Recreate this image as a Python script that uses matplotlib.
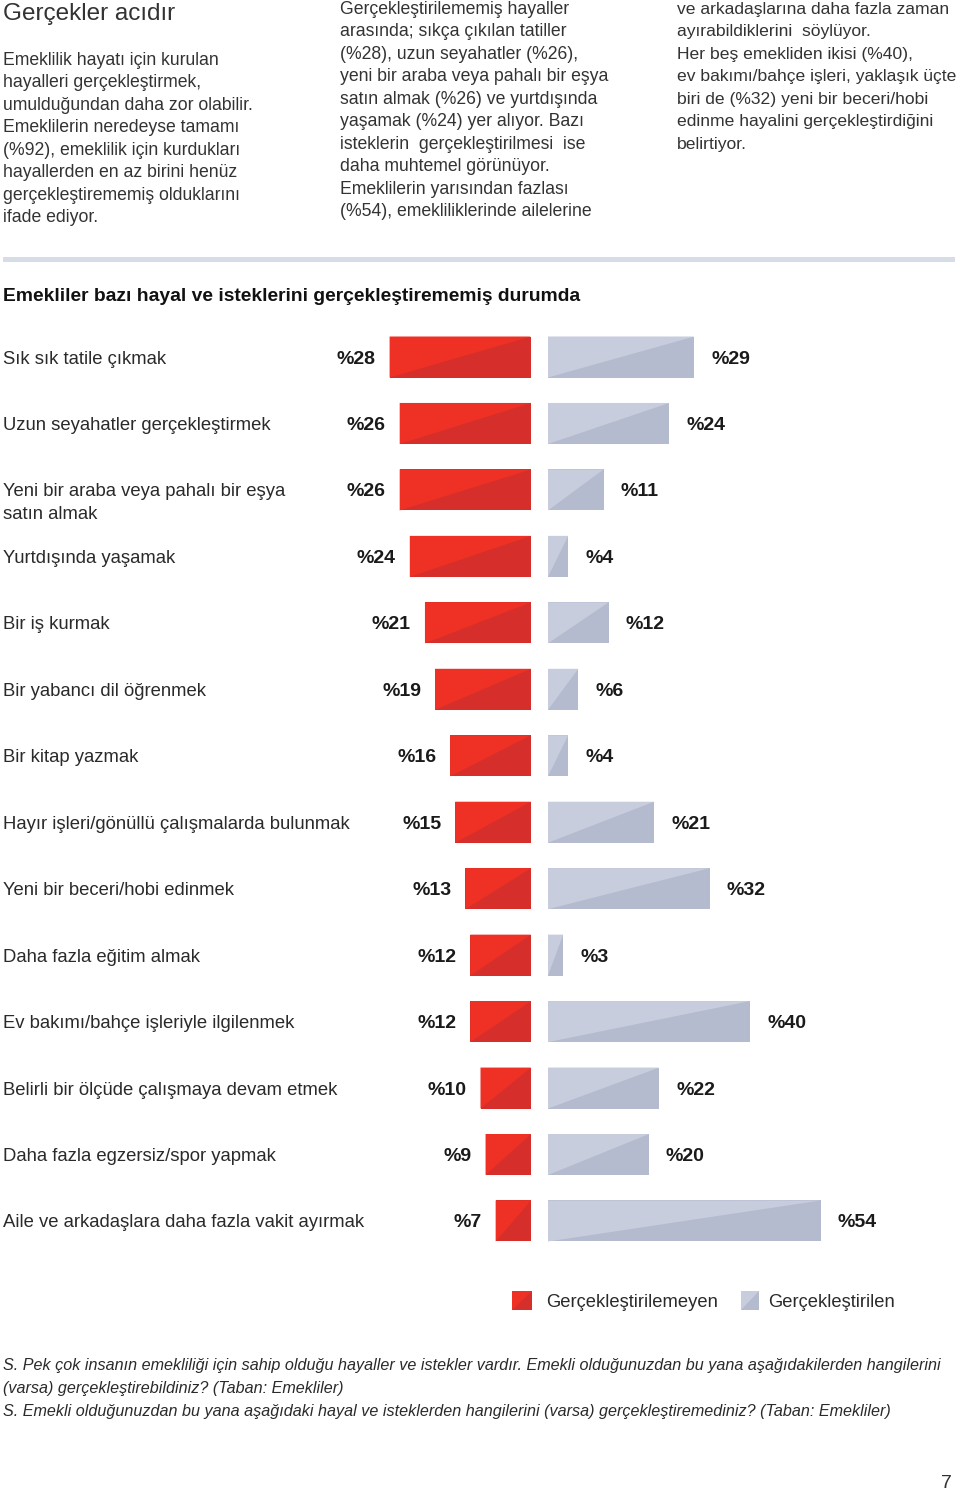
import matplotlib.pyplot as plt
from matplotlib.patches import Polygon, Rectangle

plt.rcParams['font.family'] = ['Liberation Sans', 'DejaVu Sans']

# data
categories = [
    "Sık sık tatile çıkmak",
    "Uzun seyahatler gerçekleştirmek",
    "Yeni bir araba veya pahalı bir eşya\nsatın almak",
    "Yurtdışında yaşamak",
    "Bir iş kurmak",
    "Bir yabancı dil öğrenmek",
    "Bir kitap yazmak",
    "Hayır işleri/gönüllü çalışmalarda bulunmak",
    "Yeni bir beceri/hobi edinmek",
    "Daha fazla eğitim almak",
    "Ev bakımı/bahçe işleriyle ilgilenmek",
    "Belirli bir ölçüde çalışmaya devam etmek",
    "Daha fazla egzersiz/spor yapmak",
    "Aile ve arkadaşlara daha fazla vakit ayırmak",
]
not_achieved = [28, 26, 26, 24, 21, 19, 16, 15, 13, 12, 12, 10, 9, 7]
achieved = [29, 24, 11, 4, 12, 6, 4, 21, 32, 3, 40, 22, 20, 54]

legend_labels = ["Gerçekleştirilemeyen", "Gerçekleştirilen"]

col1 = ["Emeklilik hayatı için kurulan", "hayalleri gerçekleştirmek,",
        "umulduğundan daha zor olabilir.", "Emeklilerin neredeyse tamamı",
        "(%92), emeklilik için kurdukları", "hayallerden en az birini henüz",
        "gerçekleştirememiş olduklarını", "ifade ediyor."]
col2 = ["Gerçekleştirilememiş hayaller", "arasında; sıkça çıkılan tatiller",
        "(%28), uzun seyahatler (%26),", "yeni bir araba veya pahalı bir eşya",
        "satın almak (%26) ve yurtdışında", "yaşamak (%24) yer alıyor. Bazı",
        "isteklerin  gerçekleştirilmesi  ise", "daha muhtemel görünüyor.",
        "Emeklilerin yarısından fazlası", "(%54), emekliliklerinde ailelerine"]
col3 = ["ve arkadaşlarına daha fazla zaman", "ayırabildiklerini  söylüyor.",
        "Her beş emekliden ikisi (%40),", "ev bakımı/bahçe işleri, yaklaşık üçte",
        "biri de (%32) yeni bir beceri/hobi", "edinme hayalini gerçekleştirdiğini",
        "belirtiyor."]
footnote = ["S. Pek çok insanın emekliliği için sahip olduğu hayaller ve istekler vardır. "
            "Emekli olduğunuzdan bu yana aşağıdakilerden hangilerini",
            "(varsa) gerçekleştirebildiniz? (Taban: Emekliler)",
            "S. Emekli olduğunuzdan bu yana aşağıdaki hayal ve isteklerden hangilerini "
            "(varsa) gerçekleştiremediniz? (Taban: Emekliler)"]

RED_L, RED_D = '#ee3124', '#d62e2b'
GRY_L, GRY_D = '#c7cddc', '#b5bbcf'
TXT = '#2a2a2a'

W, H = 960, 1491
fig = plt.figure(figsize=(W / 100, H / 100), dpi=100)


def fx(x):
    return x / W


def fy(y):
    return 1 - y / H


def lines(x, y_first, step, texts, **kw):
    for k, t in enumerate(texts):
        fig.text(fx(x), fy(y_first + k * step), t, va='baseline', **kw)


# header texts
fig.text(fx(3), fy(20), "Gerçekler acıdır", fontsize=17.5, color='#333333', va='baseline')
lines(3, 65, 22.45, col1, fontsize=12.7, color='#333333')
lines(340, 14, 22.45, col2, fontsize=12.7, color='#333333')
lines(677, 14, 22.45, col3, fontsize=12.6, color='#333333')

# separator
fig.add_artist(Rectangle((fx(3), fy(262)), fx(952), 5 / H, color='#d6dde6',
                         transform=fig.transFigure, lw=0))

fig.text(fx(3), fy(301), "Emekliler bazı hayal ve isteklerini gerçekleştirememiş durumda",
         fontsize=13.9, fontweight='bold', color='#111111', va='baseline')

# chart axes (x in %, y in rows)
ppx = 5.05          # pixels per percent
x0 = 539.5          # px of the centre gap
gap = 8.5 / ppx
y0, dy = 357, 66.46
bh = 41 / dy

ax = fig.add_axes([0, 0, 1, 1])
ax.set_xlim(-x0 / ppx, (W - x0) / ppx)
ax.set_ylim((H - y0) / dy, -y0 / dy)
ax.axis('off')

rows = list(range(len(categories)))
ax.barh(rows, [-v for v in not_achieved], left=-gap, height=bh, color=RED_D, lw=0)
ax.barh(rows, achieved, left=gap, height=bh, color=GRY_D, lw=0)


def tri(a, b, yc, color):
    top, bot = yc - bh / 2, yc + bh / 2
    ax.add_patch(Polygon([(a, top), (b, top), (a, bot)], closed=True, color=color, lw=0))


for i, (r, g) in enumerate(zip(not_achieved, achieved)):
    tri(-gap - r, -gap, i, RED_L)
    tri(gap, gap + g, i, GRY_L)
    lab_y = i + 6.5 / dy
    ax.text(-gap - r - 14 / ppx, lab_y, f"%{r}", ha='right', va='baseline',
            fontsize=14, fontweight='bold', color='#1a1a1a')
    ax.text(gap + g + 17 / ppx, lab_y, f"%{g}", ha='left', va='baseline',
            fontsize=14, fontweight='bold', color='#1a1a1a')
    for k, part in enumerate(categories[i].split('\n')):
        ax.text(-x0 / ppx + 3 / ppx, lab_y + k * 23 / dy, part, ha='left', va='baseline',
                fontsize=13.3, color=TXT)

# legend
for (lx, lw_), col_l, col_d, lab, tx in [((512, 20), RED_L, RED_D, legend_labels[0], 546),
                                         ((741, 18), GRY_L, GRY_D, legend_labels[1], 768)]:
    x1, x2 = lx, lx + lw_
    t, b = 1291, 1310
    fig.add_artist(Rectangle((fx(x1), fy(b)), fx(lw_), (b - t) / H, color=col_d,
                             transform=fig.transFigure, lw=0))
    fig.add_artist(Polygon([(fx(x1), fy(t)), (fx(x2), fy(t)), (fx(x1), fy(b))],
                           color=col_l, transform=fig.transFigure, lw=0))
    fig.text(fx(tx), fy(1307), lab, fontsize=13.2, color=TXT, va='baseline')

lines(3, 1370, 23, footnote, fontsize=11.6, style='italic', color=TXT)
fig.text(fx(952), fy(1488), "7", fontsize=14, color='#333333', ha='right', va='baseline')

fig.savefig('out.png', dpi=100)
